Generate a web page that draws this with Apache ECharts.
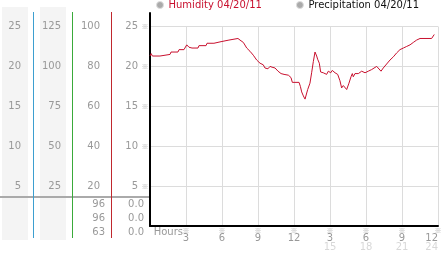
<!DOCTYPE html>
<html>
<head>
<meta charset="utf-8">
<script src="https://cdn.jsdelivr.net/npm/echarts@6/dist/echarts.min.js"></script>
<style>html,body{margin:0;padding:0;background:#fff;}#c{width:442px;height:253px;}</style>
</head>
<body>
<div id="c"></div>
<script>
const hours = [0, 0.1, 0.2, 0.83, 0.92, 1.67, 1.75, 2.33, 2.42, 2.83, 3.06, 3.25, 3.5, 4.0, 4.08, 4.67, 4.75, 5.33, 5.42, 5.92, 6.0, 6.58, 6.67, 7.33, 7.5, 7.78, 8.06, 8.33, 8.61, 8.89, 9.17, 9.44, 9.58, 9.72, 9.83, 10.0, 10.17, 10.33, 10.42, 10.67, 10.92, 11.17, 11.25, 11.53, 11.75, 11.86, 12.42, 12.53, 12.64, 12.78, 12.92, 13.0, 13.14, 13.25, 13.33, 13.47, 13.61, 13.75, 13.89, 13.97, 14.03, 14.11, 14.22, 14.44, 14.58, 14.72, 14.86, 15.06, 15.19, 15.42, 15.64, 15.83, 15.97, 16.11, 16.25, 16.39, 16.58, 16.75, 16.86, 16.94, 17.08, 17.36, 17.64, 17.92, 18.19, 18.47, 18.89, 19.03, 19.25, 19.44, 19.72, 20.0, 20.28, 20.56, 20.83, 21.11, 21.39, 21.67, 21.94, 22.22, 22.5, 23.47, 23.69];
const humidity = [21.3, 21.6, 21.3, 21.3, 21.5, 21.5, 21.8, 21.8, 22.1, 22.1, 22.7, 22.4, 22.3, 22.3, 22.6, 22.6, 22.9, 22.9, 23.1, 23.1, 23.3, 23.3, 23.5, 23.5, 23.3, 23.0, 22.3, 21.9, 21.4, 20.8, 20.4, 20.2, 19.8, 20.0, 19.7, 20.0, 19.9, 20.0, 19.8, 19.4, 19.1, 19.0, 19.1, 18.9, 18.6, 18.0, 18.0, 17.5, 16.8, 16.3, 15.9, 16.1, 17.1, 17.3, 17.9, 19.2, 20.6, 21.8, 21.3, 20.9, 21.1, 20.4, 19.3, 19.2, 19.4, 19.0, 19.4, 19.2, 19.5, 19.2, 19.0, 18.2, 17.3, 17.6, 17.5, 17.1, 17.9, 18.7, 19.1, 18.7, 19.1, 19.1, 19.4, 19.2, 19.4, 19.6, 20.0, 19.8, 19.4, 19.8, 20.3, 20.8, 21.2, 21.7, 22.1, 22.3, 22.5, 22.7, 23.0, 23.3, 23.5, 23.5, 24.0];
const precipitation = [];
const hourLabels = ['3', '6', '9', '12', '3', '6', '9', '12'];
const hourSubLabels = ['', '', '', '', '15', '18', '21', '24'];
const tableHumidity = ['96', '96', '63'];
const tablePrecip = ['0.0', '0.0', '0.0'];
const seriesNames = ['Humidity 04/20/11', 'Precipitation 04/20/11'];

const FONT = 'DejaVu Sans';
const LBL = '#999';
const MARK = '#aaa';
const chart = echarts.init(document.getElementById('c'), null, {renderer: 'canvas'});

function colAxis(max, interval, margin) {
  return {
    gridIndex: 0, type: 'value', position: 'left', min: 0, max: max, interval: interval,
    axisLine: {show: false, onZero: false}, axisTick: {show: false}, splitLine: {show: false},
    axisLabel: {margin: margin, color: LBL, fontSize: 10, fontFamily: FONT,
      showMinLabel: true, showMaxLabel: true,
      formatter: v => v === 0 ? '' : String(v)}
  };
}

const graphics = [
  {type: 'rect', z: -10, shape: {x: 2, y: 7, width: 26, height: 233}, style: {fill: '#f4f4f4'}},
  {type: 'rect', z: -10, shape: {x: 40, y: 7, width: 26, height: 233}, style: {fill: '#f4f4f4'}},
  {type: 'line', z: -5, shape: {x1: 0, y1: 197, x2: 150, y2: 197}, style: {stroke: '#aaa', lineWidth: 2}},
  {type: 'line', z: 5, shape: {x1: 33.5, y1: 12, x2: 33.5, y2: 238}, style: {stroke: '#3d9fd0', lineWidth: 1}},
  {type: 'line', z: 5, shape: {x1: 72.5, y1: 12, x2: 72.5, y2: 238}, style: {stroke: '#3aaa3a', lineWidth: 1}},
  {type: 'line', z: 5, shape: {x1: 111.5, y1: 12, x2: 111.5, y2: 238}, style: {stroke: '#c0282e', lineWidth: 1}}
];
tableHumidity.forEach((t, i) => {
  graphics.push({type: 'text', x: 105, y: 204 + i * 14,
    style: {text: t, align: 'right', verticalAlign: 'middle', fill: LBL, font: '10px ' + FONT}});
});
tablePrecip.forEach((t, i) => {
  graphics.push({type: 'text', x: 144, y: 204 + i * 14,
    style: {text: t, align: 'right', verticalAlign: 'middle', fill: LBL, font: '10px ' + FONT}});
});

const gridBase = {left: 150, right: 4, containLabel: false, outerBoundsMode: 'none'};

chart.setOption({
  animation: false,
  textStyle: {fontFamily: FONT},
  legend: {
    left: 156, top: 0, padding: 0, itemWidth: 7, itemHeight: 7, itemGap: 34,
    textStyle: {fontSize: 10, fontFamily: FONT},
    data: [
      {name: seriesNames[0], icon: 'circle', itemStyle: {color: '#aaa', borderColor: '#ddd', borderWidth: 1}, textStyle: {color: '#c8102e'}},
      {name: seriesNames[1], icon: 'circle', itemStyle: {color: '#aaa', borderColor: '#ddd', borderWidth: 1}, textStyle: {color: '#111'}}
    ]
  },
  grid: [
    Object.assign({top: 26.5, bottom: 27}, gridBase),
    Object.assign({top: 13, bottom: 27}, gridBase)
  ],
  xAxis: [
    {
      gridIndex: 0, type: 'value', position: 'bottom', min: 0, max: 24, interval: 3,
      axisLine: {show: true, onZero: false, lineStyle: {color: '#000', width: 2}},
      axisTick: {show: false},
      splitLine: {show: true, lineStyle: {color: '#dcdcdc', width: 1}},
      name: 'Hours', nameLocation: 'start', nameGap: -33, nameMoveOverlap: false,
      nameTextStyle: {color: LBL, fontSize: 10, fontFamily: FONT, verticalAlign: 'top', padding: [1, 0, 0, 0]},
      axisLabel: {
        margin: 8, showMinLabel: true, showMaxLabel: true, alignMaxLabel: 'right',
        formatter: v => {
          if (v === 0) return '';
          const i = Math.round(v / 3) - 1;
          let s = '{a|' + hourLabels[i] + '}';
          if (hourSubLabels[i]) s += '\n{b|' + hourSubLabels[i] + '}';
          return s;
        },
        rich: {
          a: {fontSize: 10, lineHeight: 9, color: LBL, fontFamily: FONT},
          b: {fontSize: 10, lineHeight: 8, color: '#d8d8d8', fontFamily: FONT}
        }
      }
    },
    {
      gridIndex: 0, type: 'value', position: 'bottom', min: 0, max: 24, interval: 3,
      axisLine: {show: false, onZero: false}, axisTick: {show: false}, splitLine: {show: false},
      axisLabel: {margin: 1, color: MARK, fontSize: 7, fontFamily: 'Noto Sans CJK JP',
        showMinLabel: true, showMaxLabel: true,
        formatter: v => v === 0 ? '' : '※'}
    },
    {gridIndex: 1, type: 'value', min: 0, max: 24, show: false}
  ],
  yAxis: [
    {
      gridIndex: 0, type: 'value', position: 'left', min: 0, max: 25, interval: 5,
      axisLine: {show: false, onZero: false}, axisTick: {show: false},
      splitLine: {show: true, lineStyle: {color: '#dcdcdc', width: 1}},
      axisLabel: {margin: 12, color: LBL, fontSize: 10, fontFamily: FONT,
        showMinLabel: true, showMaxLabel: true,
        formatter: v => v === 0 ? '' : String(v)}
    },
    {
      gridIndex: 0, type: 'value', position: 'left', min: 0, max: 25, interval: 5,
      axisLine: {show: false, onZero: false}, axisTick: {show: false}, splitLine: {show: false},
      axisLabel: {margin: 1.5, color: MARK, fontSize: 7, fontFamily: 'Noto Sans CJK JP',
        showMinLabel: true, showMaxLabel: true,
        formatter: v => v === 0 ? '' : '※'}
    },
    colAxis(100, 20, 50),
    colAxis(125, 25, 89),
    colAxis(25, 5, 129),
    {
      gridIndex: 1, type: 'value', position: 'left', min: 0, max: 1,
      axisLine: {show: true, onZero: false, lineStyle: {color: '#000', width: 2}},
      axisTick: {show: false}, axisLabel: {show: false}, splitLine: {show: false}
    }
  ],
  graphic: graphics,
  series: [
    {
      name: seriesNames[0], type: 'line', xAxisIndex: 0, yAxisIndex: 0,
      data: hours.map((h, i) => [h, humidity[i]]),
      showSymbol: false, symbol: 'none',
      lineStyle: {color: '#c8102e', width: 1}, itemStyle: {color: '#c8102e'}
    },
    {
      name: seriesNames[1], type: 'line', xAxisIndex: 0, yAxisIndex: 0,
      data: precipitation, showSymbol: false, symbol: 'none',
      lineStyle: {color: '#555', width: 1}, itemStyle: {color: '#555'}
    }
  ]
});
</script>
</body>
</html>
